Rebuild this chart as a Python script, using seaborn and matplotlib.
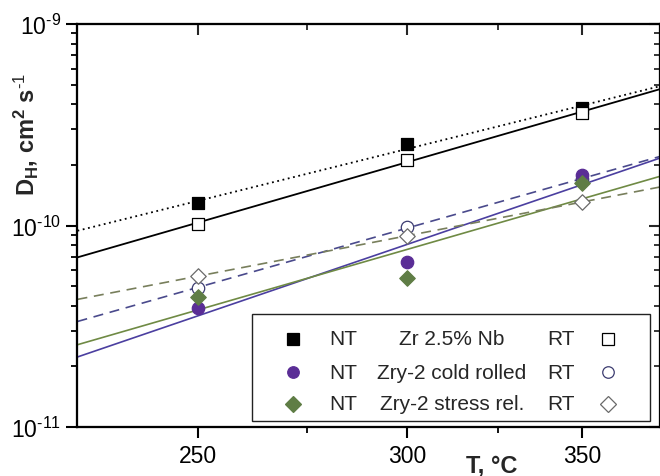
import numpy as np
import pandas as pd
import matplotlib
matplotlib.use("Agg")
import matplotlib.pyplot as plt
from matplotlib.patches import Rectangle
from matplotlib.ticker import NullFormatter, LogLocator, FixedLocator, FixedFormatter
import seaborn as sns

# ---------------- data ----------------
temps_c = [250, 300, 350]
zr_nt = [1.29e-10, 2.54e-10, 3.82e-10]   # Zr 2.5% Nb, NT (filled squares)
zr_rt = [1.02e-10, 2.12e-10, 3.62e-10]   # Zr 2.5% Nb, RT (open squares)
cr_nt = [3.90e-11, 6.59e-11, 1.78e-10]   # Zry-2 cold rolled, NT
cr_rt = [4.90e-11, 9.83e-11, 1.70e-10]   # Zry-2 cold rolled, RT
sr_nt = [4.42e-11, 5.49e-11, 1.62e-10]   # Zry-2 stress rel., NT
sr_rt = [5.61e-11, 8.87e-11, 1.31e-10]   # Zry-2 stress rel., RT
x_major = [250, 300, 350]
x_minor = [275, 325]
t_range = [225, 375]
y_major = [1e-11, 1e-10, 1e-9]
y_labels = [r"10$^{\text{-11}}$", r"10$^{\text{-10}}$", r"10$^{\text{-9}}$"]
materials = ["Zr 2.5% Nb", "Zry-2 cold rolled", "Zry-2 stress rel."]

sns.set_theme(style="ticks")
plt.rcParams["font.family"] = ["Liberation Sans", "DejaVu Sans"]
plt.rcParams["mathtext.fontset"] = "custom"
plt.rcParams["mathtext.rm"] = "Liberation Sans"
plt.rcParams["mathtext.bf"] = "Liberation Sans:bold"
plt.rcParams["mathtext.it"] = "Liberation Sans:italic"


def inv(t):
    return 1000.0 / (np.asarray(t, dtype=float) + 273.15)


fig = plt.figure(figsize=(6.6, 4.77), dpi=100)
ax = fig.add_axes([0.1174, 0.1027, 0.8826, 0.8449])
ax.set_yscale("log")

u = inv(temps_c)
ugrid = np.linspace(inv(t_range[0]), inv(t_range[1]), 60)

series = [
    (zr_rt, "black", "-", 1.3),
    (zr_nt, "black", (0, (1, 2)), 1.3),
    (cr_nt, "#4b3fa0", "-", 1.2),
    (cr_rt, "#4a4a8c", (0, (6, 4)), 1.2),
    (sr_nt, "#6f8a44", "-", 1.2),
    (sr_rt, "#787f5c", (0, (6, 4)), 1.2),
]
for vals, col, ls, lw in series:
    p = np.polyfit(u, np.log10(vals), 1)
    fit = 10 ** np.polyval(p, ugrid)
    sns.lineplot(x=ugrid, y=fit, ax=ax, color=col, linestyle=ls, lw=lw,
                 sort=False, estimator=None, zorder=2)

purple = "#5a2d96"
green = "#5f7d45"
marks = [
    (zr_nt, "s", "black", "black", 66),
    (zr_rt, "s", "white", "black", 66),
    (cr_rt, "o", "white", "#3c3c70", 80),
    (sr_rt, "D", "white", "#6a6a6a", 62),
    (cr_nt, "o", purple, purple, 80),
    (sr_nt, "D", green, green, 62),
]
for vals, m, fc, ec, s in marks:
    sns.scatterplot(x=u, y=vals, ax=ax, marker=m, s=s, color=fc,
                    edgecolor=ec, linewidth=0.9, zorder=5)

ax.set_xlim(inv(t_range[0]), inv(t_range[1]))
ax.set_ylim(1e-11, 1e-9)
ax.set_xticks(inv(x_major))
ax.set_xticklabels([str(t) for t in x_major])
ax.set_xticks(inv(x_minor), minor=True)
ax.yaxis.set_major_locator(FixedLocator(y_major))
ax.yaxis.set_major_formatter(FixedFormatter(y_labels))
ax.yaxis.set_minor_locator(LogLocator(base=10, subs=np.arange(2, 10)))
ax.yaxis.set_minor_formatter(NullFormatter())
ax.set_xlabel("")
ax.set_ylabel("")

for sp in ax.spines.values():
    sp.set_linewidth(1.5)
    sp.set_color("black")
    sp.set_visible(True)

ax.tick_params(which="major", direction="out", length=8, width=1.5,
               labelsize=16.5, colors="black", pad=4)
ax.tick_params(which="minor", direction="out", length=4.5, width=1.3,
               colors="black")

# mirror ticks (inward) on top and right
axt = ax.twiny()
axt.set_xlim(ax.get_xlim())
axt.set_xticks(inv(x_major))
axt.set_xticks(inv(x_minor), minor=True)
axt.tick_params(which="major", direction="in", length=8, width=1.5,
                labeltop=False, labelbottom=False, top=True)
axt.tick_params(which="minor", direction="in", length=4.5, width=1.3, top=True)
axr = ax.twinx()
axr.set_yscale("log")
axr.set_ylim(ax.get_ylim())
axr.yaxis.set_major_locator(FixedLocator(y_major))
axr.yaxis.set_minor_locator(LogLocator(base=10, subs=np.arange(2, 10)))
axr.yaxis.set_minor_formatter(NullFormatter())
axr.tick_params(which="major", direction="in", length=8, width=1.5,
                labelright=False, labelleft=False, right=True)
axr.tick_params(which="minor", direction="in", length=4.5, width=1.3, right=True)
for a in (axt, axr):
    for sp in a.spines.values():
        sp.set_linewidth(1.5)
        sp.set_color("black")

# table-like legend
x0, x1, y0, y1 = 0.2996, 0.9828, 0.0149, 0.2804
ax.add_patch(Rectangle((x0, y0), x1 - x0, y1 - y0, transform=ax.transAxes,
                       facecolor="white", edgecolor="#222222", lw=1.0,
                       zorder=8, clip_on=False))
rows_y = [0.2184, 0.1365, 0.0571]
leg_nt = [("s", "black", "black"), ("o", purple, purple), ("D", green, green)]
leg_rt = [("s", "white", "black"), ("o", "white", "#3c3c70"), ("D", "white", "#6a6a6a")]
for i, yy in enumerate(rows_y):
    m, fc, ec = leg_nt[i]
    ax.plot([0.370], [yy], marker=m, ms=8.3 if m != "D" else 7.8, mfc=fc, mec=ec,
            mew=0.9, ls="none", transform=ax.transAxes, zorder=9, clip_on=False)
    m, fc, ec = leg_rt[i]
    ax.plot([0.9107], [yy], marker=m, ms=8.3 if m != "D" else 7.8, mfc=fc, mec=ec,
            mew=0.9, ls="none", transform=ax.transAxes, zorder=9, clip_on=False)
    ax.text(0.4558, yy, "NT", transform=ax.transAxes, ha="center", va="center",
            fontsize=15, zorder=9)
    ax.text(0.6429, yy, materials[i], transform=ax.transAxes, ha="center",
            va="center", fontsize=15, zorder=9)
    ax.text(0.830, yy, "RT", transform=ax.transAxes, ha="center", va="center",
            fontsize=15, zorder=9)

fig.text(492 / 660, 0.009, "T, °C", ha="center", va="baseline",
         fontsize=17, fontweight="bold")
fig.text(25 / 660, 1 - 134 / 477, r"D$_\mathbf{H}$, cm$^\mathbf{2}$ s$^{\text{-1}}$",
         rotation=90, ha="center", va="center", fontsize=17, fontweight="bold")

fig.savefig("out.png", dpi=100)
